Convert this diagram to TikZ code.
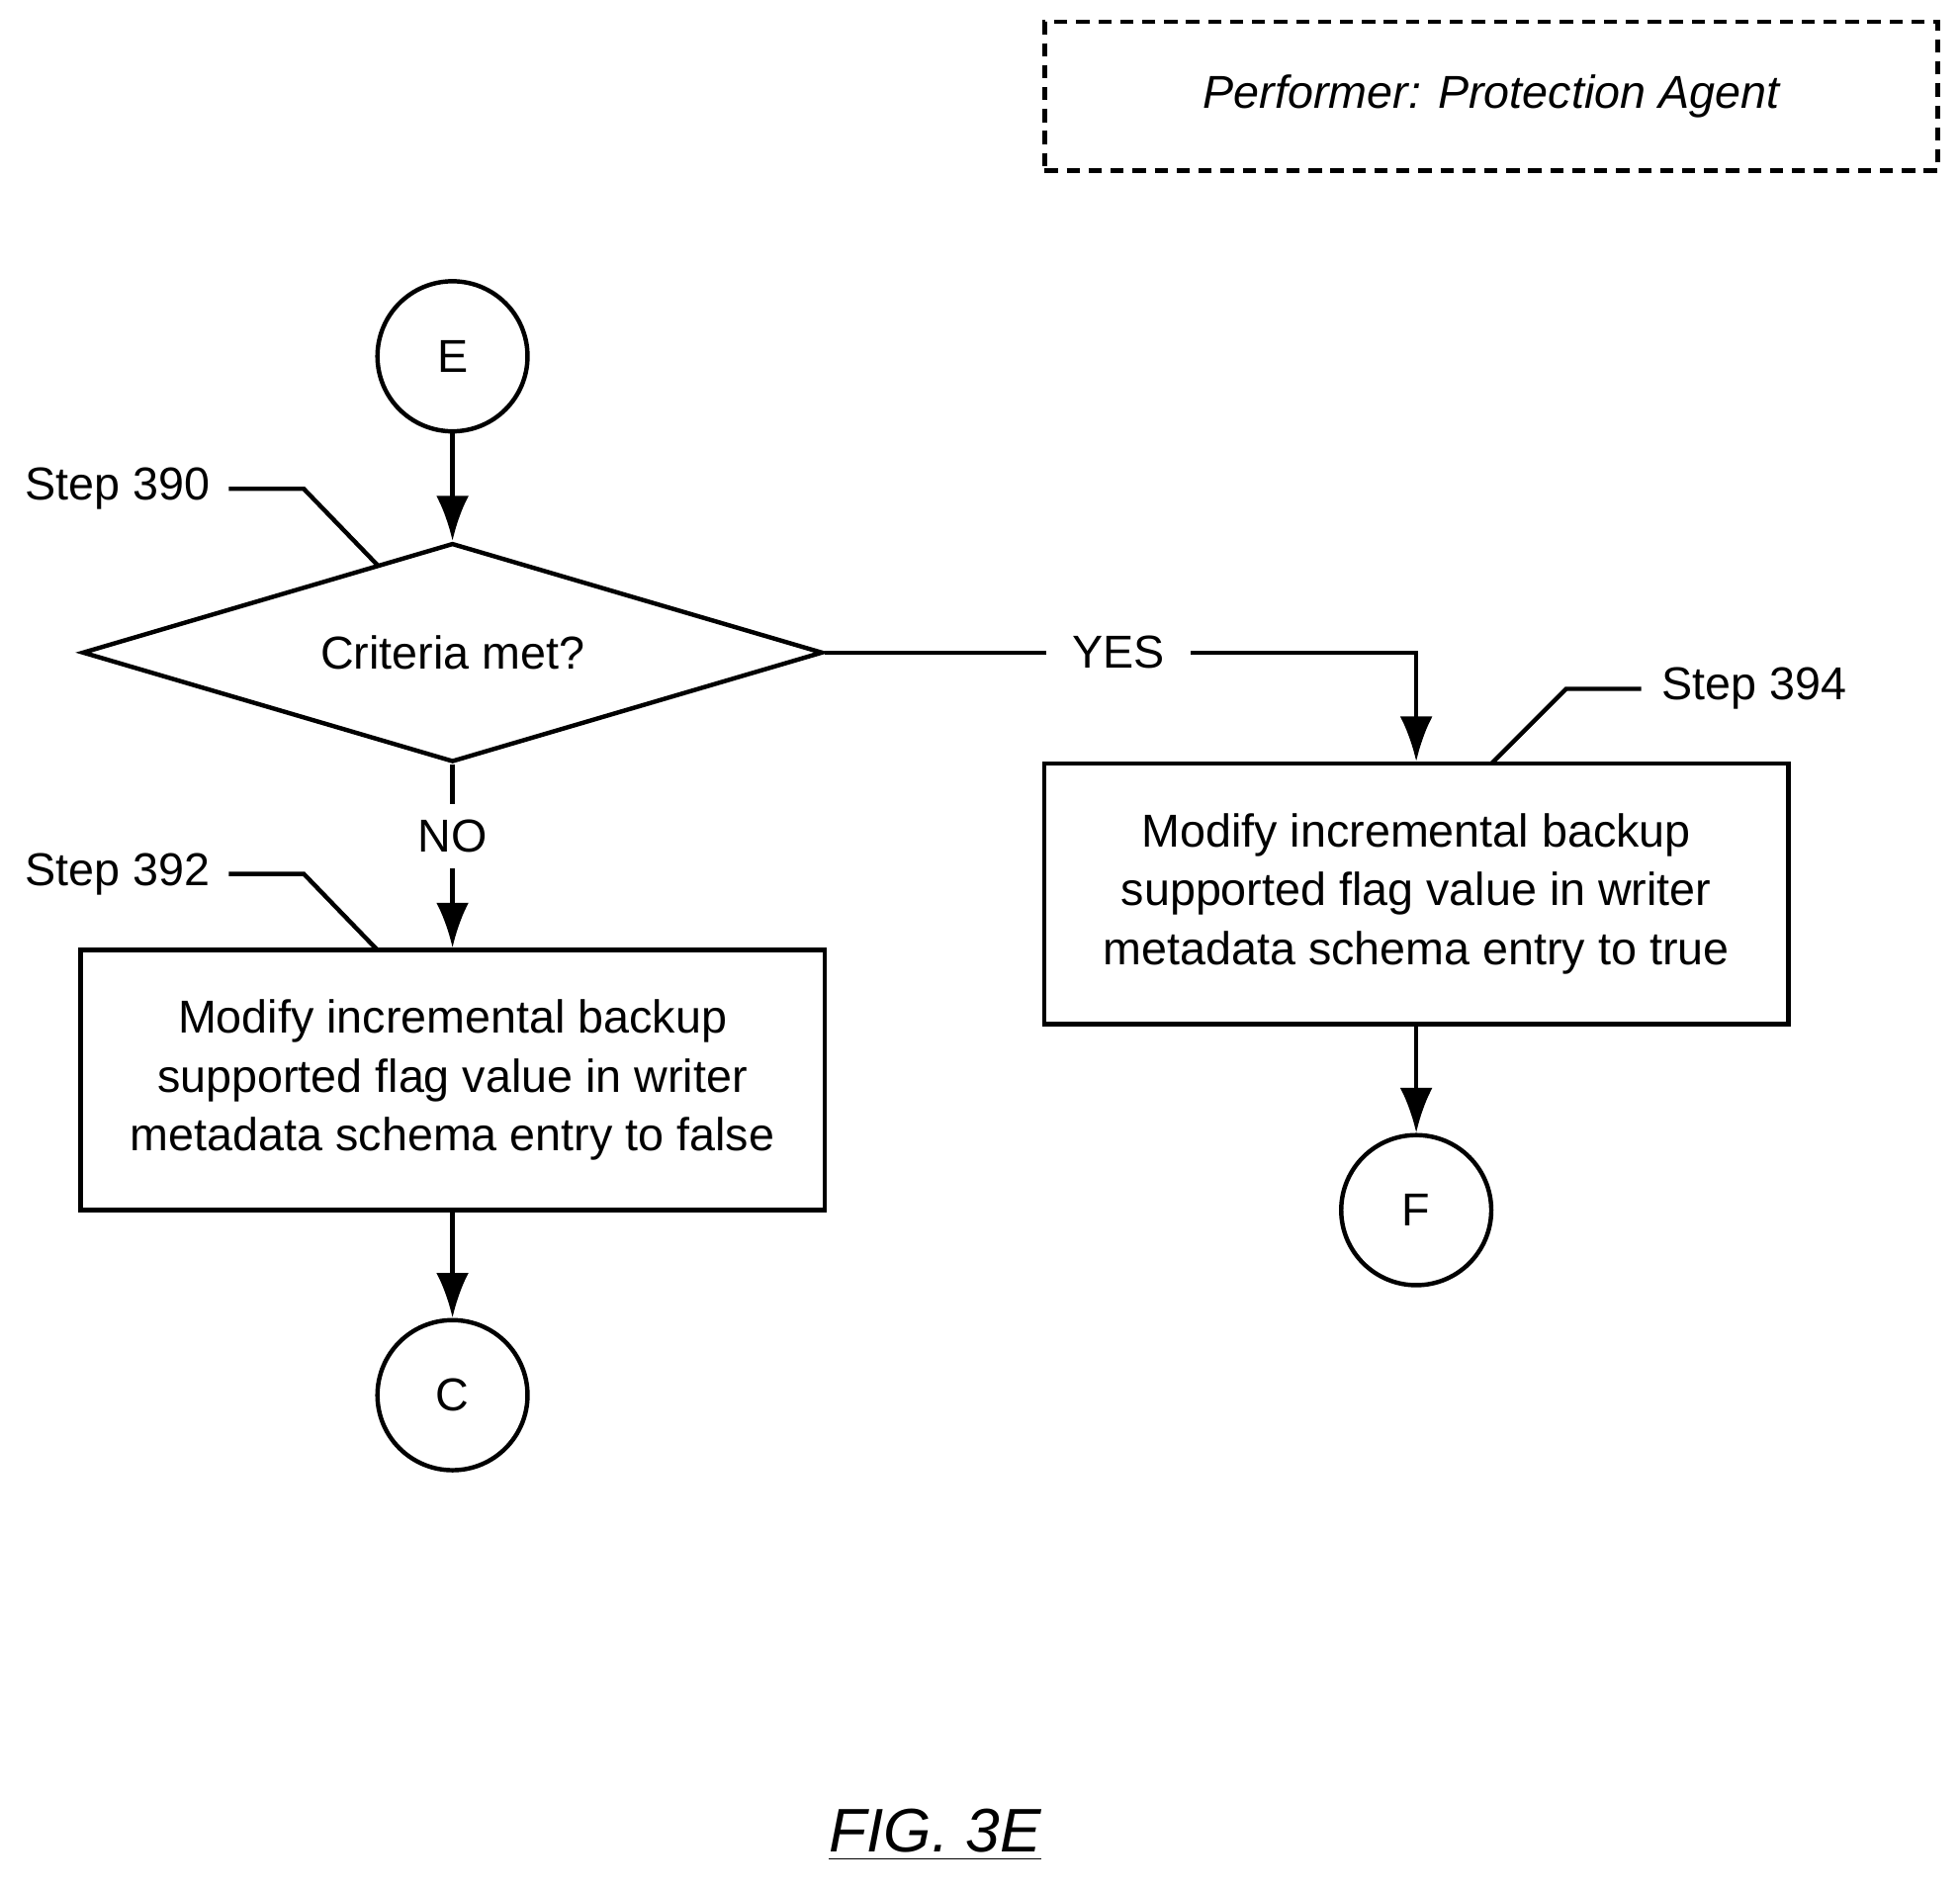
\documentclass[tikz,border=0pt]{standalone}
\usepackage{fontspec}
\setmainfont{Liberation Sans}
\usetikzlibrary{shapes.geometric,arrows.meta}
\tikzset{
  flow/.style={draw, line width=1pt, align=center, font=\fontsize{10.5}{13.4}\selectfont},
  stepbox/.style={rectangle, flow, minimum width=5.95cm, minimum height=2.08cm},
  conn/.style={circle, flow, minimum size=1.2cm, inner sep=0pt},
  lbl/.style={font=\fontsize{10.5}{13.4}\selectfont, inner sep=1pt},
  line/.style={line width=1pt},
  arr/.style={line, -{Latex[length=3.6mm,width=2.6mm]}}
}
\begin{document}
\begin{tikzpicture}[x=0.01cm,y=-0.01cm]
    \useasboundingbox (0,0) rectangle (1568,1512);
    % performer
    \node[draw, line width=1pt, densely dashed, minimum width=7.14cm, minimum height=1.19cm,
      font=\fontsize{10.5}{13.4}\selectfont\itshape] (perf) at (1193,77) {Performer: Protection Agent};

    \node[conn] (E) at (362,285) {E};
    \node[diamond, flow, aspect=3.38, minimum width=5.92cm, minimum height=1.75cm, inner sep=0pt] (d390) at (362,522) {Criteria met?};
    \node[stepbox] (b392) at (362,864) {Modify incremental backup\\supported flag value in writer\\metadata schema entry to false};
    \node[stepbox] (b394) at (1133,715) {Modify incremental backup\\supported flag value in writer\\metadata schema entry to true};
    \node[conn] (C) at (362,1116) {C};
    \node[conn] (F) at (1133,968) {F};

    \node[lbl, inner xsep=0.2cm] (yes) at (895,522) {YES};
    \node[lbl, inner ysep=0.12cm] (no) at (362,669) {NO};

    \draw[arr] (E) -- (d390.north);
    \draw[line] (d390.east) -- (yes);
    \draw[arr] (yes) -| (b394);
    \draw[line] (d390.south) -- (no);
    \draw[arr] (no) -- (b392);
    \draw[arr] (b392) -- (C);
    \draw[arr] (b394) -- (F);

    % step labels
    \node[lbl, anchor=east] (s390) at (172,391) {Step 390};
    \node[lbl, anchor=east] (s392) at (172,699) {Step 392};
    \node[lbl, anchor=west] (s394) at (1325,551) {Step 394};
    \coordinate (t390) at (302,452);
    \coordinate (t392) at (302,760);
    \coordinate (t394) at (1193,611);
    \draw[line] (183,391) -- (243,391) -- (t390);
    \draw[line] (183,699) -- (243,699) -- (t392);
    \draw[line] (1313,551) -- (1253,551) -- (t394);

    \node[font=\fontsize{14}{16}\selectfont\itshape] (fig) at (748,1468) {\underline{FIG. 3E}};
\end{tikzpicture}
\end{document}
